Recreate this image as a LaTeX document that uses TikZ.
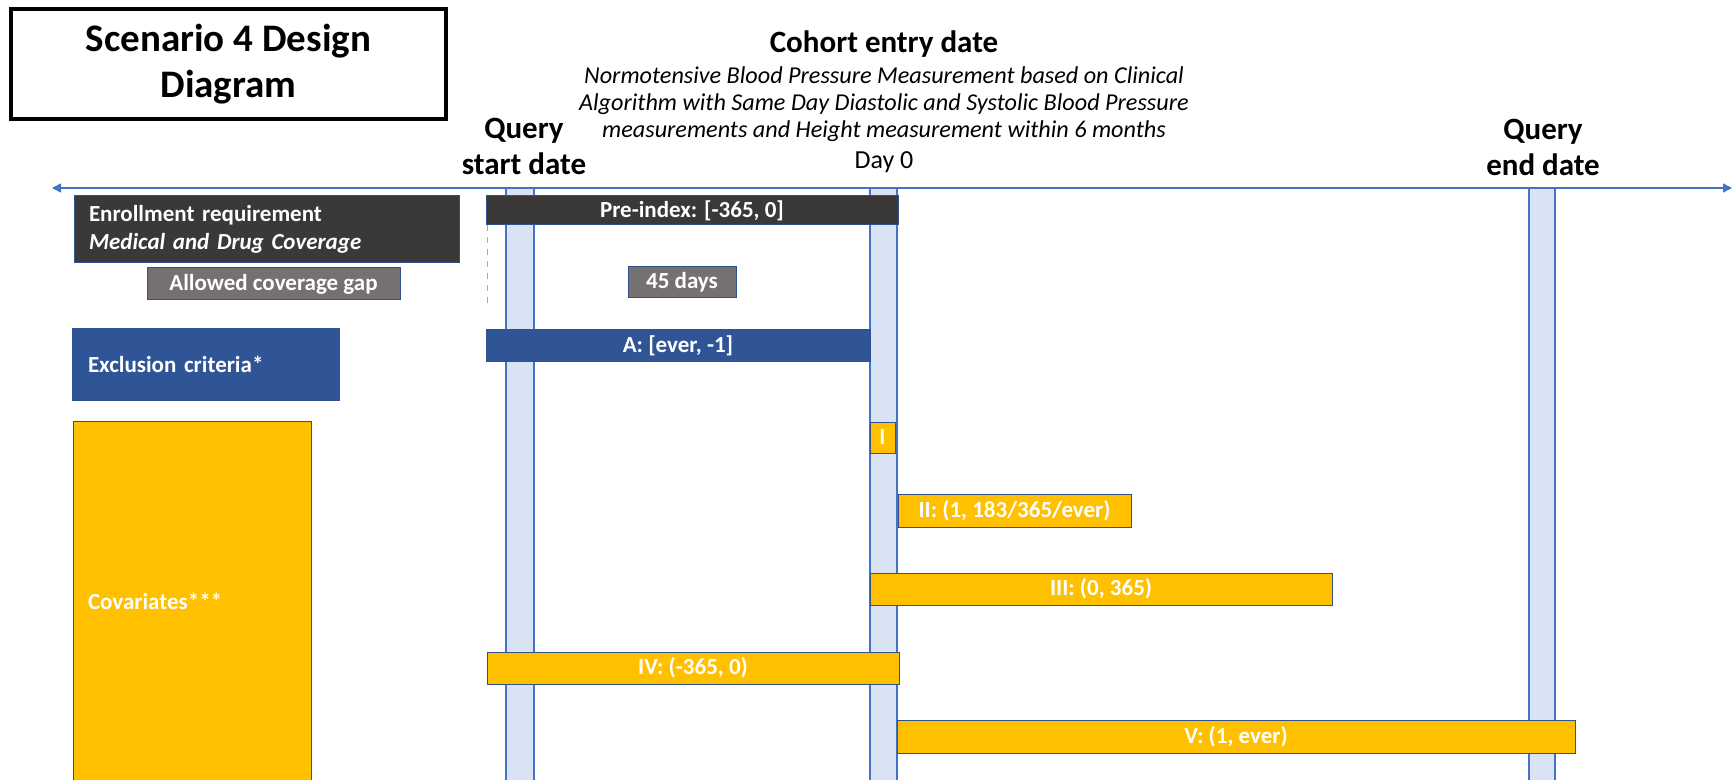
\documentclass[tikz,border=0pt]{standalone}
\usepackage{fontspec}
\setmainfont{Carlito}
\usepackage{tikz}
\usetikzlibrary{arrows.meta}
\definecolor{darkbox}{HTML}{3B3838}
\definecolor{graybox}{HTML}{767171}
\definecolor{bluebox}{HTML}{2F5597}
\definecolor{goldbox}{HTML}{FFC000}
\definecolor{barfill}{HTML}{DAE3F3}
\definecolor{barline}{HTML}{4472C4}
\definecolor{boxline}{HTML}{2F528F}

\begin{document}
\begin{tikzpicture}[x=0.5pt,y=-0.5pt]
\tikzstyle{band}=[rectangle,draw=boxline,line width=0.5pt,inner sep=0pt,text=white,font=\fontsize{11.5}{14}\selectfont\bfseries]
\tikzstyle{datebar}=[rectangle,draw=barline,fill=barfill,line width=0.8pt,inner sep=0pt,minimum height=296.5pt]
\tikzstyle{head}=[align=center,inner sep=0pt,font=\fontsize{15.5}{18}\selectfont\bfseries]
\tikzstyle{timeline}=[draw=barline,line width=0.7pt,{Triangle[length=4.5pt,width=4.5pt]}-{Triangle[length=4.5pt,width=4.5pt]}]
\useasboundingbox (0,0) rectangle (1733,780);

\node[rectangle,draw=black,line width=1.6pt,inner sep=0pt,align=center,minimum width=217.5pt,minimum height=55pt,font=\fontsize{19.5}{23}\selectfont\bfseries] at(228.5, 64) (title) {Scenario 4 Design\\Diagram};

\node[head] at(884, 44) (cohort) {Cohort entry date};
\node[align=center,inner sep=0pt,font=\fontsize{12.1}{13.5}\selectfont\itshape] at(884, 104) (cohortnote) {Normotensive Blood Pressure Measurement based on Clinical\\
                         Algorithm with Same Day Diastolic and Systolic Blood Pressure\\
                         measurements and Height measurement within 6 months};
\node[inner sep=0pt,font=\fontsize{13}{15}\selectfont] at(884, 162) (dayzero) {Day 0};
\node[head] at(524, 146) (qstart) {Query\\start date};
\node[head] at(1543, 147) (qend) {Query\\end date};

\coordinate (tlleft) at(52, 188);
\coordinate (tlright) at(1732, 188);
\draw[timeline] (tlleft) -- (tlright);

\node[datebar,minimum width=14pt] at(520, 484.5) (qstartbar) {};
\node[datebar,minimum width=13.5pt] at(883.5, 484.5) (dayzerobar) {};
\node[datebar,minimum width=13pt] at(1542, 484.5) (qendbar) {};

\node[band,fill=darkbox,minimum width=192.5pt,minimum height=33.5pt,text width=177.5pt,align=left] at(266.5, 229.5) (enroll) {Enrollment requirement\\\textit{Medical and Drug Coverage}};
\node[band,fill=graybox,minimum width=126.5pt,minimum height=16pt] at(273.5, 284) (gap) {Allowed coverage gap};
\node[band,fill=bluebox,minimum width=133.5pt,minimum height=35.5pt,text width=117.5pt,align=left] at(205.5, 364.5) (exclusion) {Exclusion criteria*};
\node[band,fill=goldbox,minimum width=119pt,minimum height=180pt,text width=104pt,align=left] at(192, 601) (covariates) {Covariates***};

\node[band,fill=darkbox,minimum width=206pt,minimum height=14.5pt] at(692, 210.5) (preindex) {Pre-index: [-365, 0]};
\draw[dashed,gray!70,line width=0.6pt] ([xshift=0.8pt]preindex.south west) -- ++(0,78);
\node[band,fill=graybox,minimum width=54pt,minimum height=15.5pt] at(682, 282.5) (days) {45 days};
\node[band,fill=bluebox,minimum width=192pt,minimum height=16pt] at(678, 346) (crita) {A: [ever, -1]};

\node[band,fill=goldbox,minimum width=12.5pt,minimum height=15.5pt] at(882.5, 437.5) (covi) {I};
\node[band,fill=goldbox,minimum width=116.5pt,minimum height=16.5pt] at(1014.5, 510.5) (covii) {II: (1, 183/365/ever)};
\node[band,fill=goldbox,minimum width=231pt,minimum height=16pt] at(1101, 589) (coviii) {III: (0, 365)};
\node[band,fill=goldbox,minimum width=206pt,minimum height=16pt] at(693, 668) (coviv) {IV: (-365, 0)};
\node[band,fill=goldbox,minimum width=339pt,minimum height=16.5pt] at(1236, 736.5) (covv) {V: (1, ever)};
\end{tikzpicture}
\end{document}
